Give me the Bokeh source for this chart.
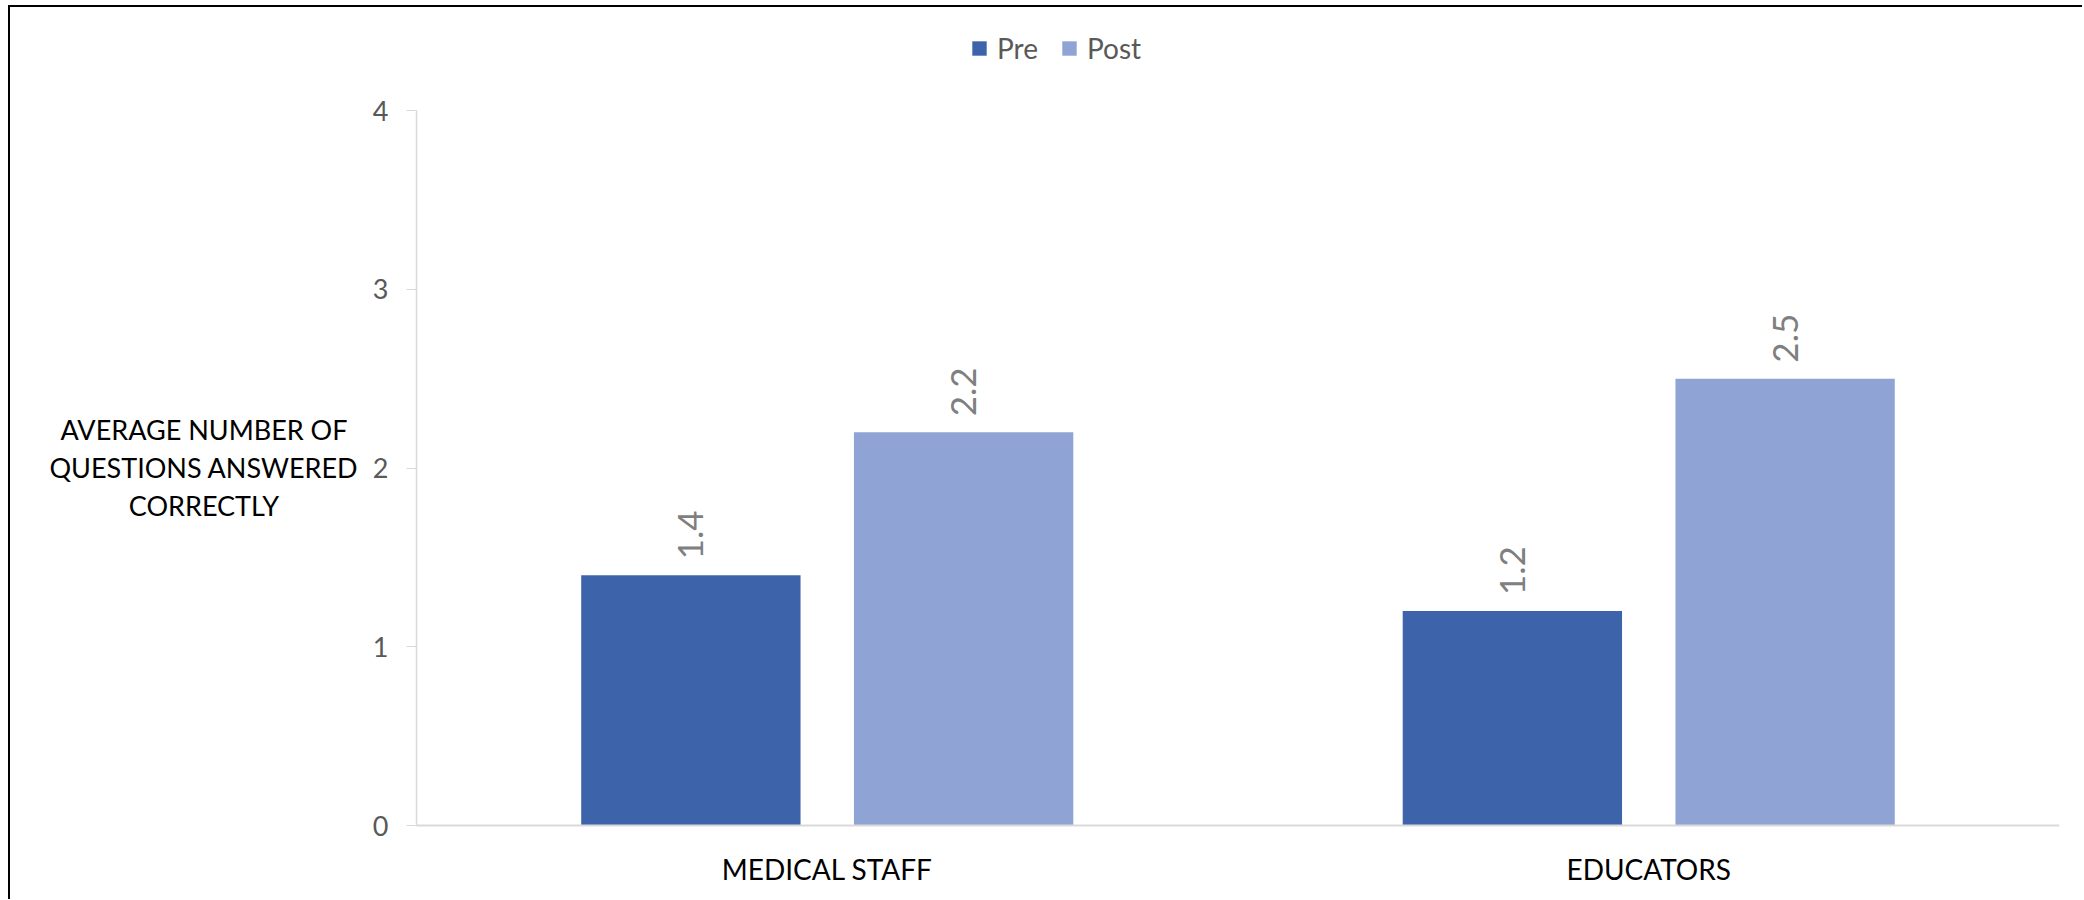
import math
from bokeh.plotting import figure
from bokeh.models import (ColumnDataSource, Range1d, FixedTicker, Legend,
                          LegendItem, Label)
from bokeh.core.properties import value
from bokeh.embed import file_html
from bokeh.resources import INLINE

# --- data -------------------------------------------------------------
groups = ["MEDICAL STAFF", "EDUCATORS"]
pre_scores = [1.4, 1.2]
post_scores = [2.2, 2.5]
series_names = ["Pre", "Post"]
y_ticks = [0, 1, 2, 3, 4]
y_title_lines = ["AVERAGE NUMBER OF", "QUESTIONS ANSWERED", "CORRECTLY"]

PRE_COLOR = "#3D64AB"
POST_COLOR = "#8FA4D4"
FONT = "Lato"

# --- layout (pixels on the canvas) -------------------------------------
W, H = 2074, 894
AXIS_X_PX = 406            # canvas x of the value axis
AXIS_Y_PX = 818            # canvas y of the category axis (value 0)
PAD_RIGHT = 25
AXIS_SPAN_PX = 715         # from value 0 up to the top tick
frame_w = W - PAD_RIGHT
px_per_group = (frame_w - AXIS_X_PX) / len(groups)
px_per_unit = AXIS_SPAN_PX / y_ticks[-1]
x_start = -AXIS_X_PX / px_per_group
y_start = -(H - AXIS_Y_PX) / px_per_unit
y_end = AXIS_Y_PX / px_per_unit

group_x = [i + 0.5 for i in range(len(groups))]
bar_w = 0.267
off = 0.166

source = ColumnDataSource(data=dict(
    x_pre=[g - off for g in group_x],
    x_post=[g + off for g in group_x],
    pre=pre_scores,
    post=post_scores,
    pre_txt=[f"{v:.1f}" for v in pre_scores],
    post_txt=[f"{v:.1f}" for v in post_scores],
))

p = figure(
    x_range=Range1d(x_start, len(groups)),
    y_range=Range1d(y_start, y_end),
    width=W, height=H,
    output_backend="svg", toolbar_location=None,
    min_border_left=0, min_border_right=PAD_RIGHT,
    min_border_top=0, min_border_bottom=0,
    background_fill_color="white", border_fill_color="white",
)
p.styles = {
    "margin-left": "8px", "margin-top": "5px",
    "border-left": "2px solid #000000", "border-top": "2px solid #000000",
}
p.outline_line_color = None
p.xgrid.grid_line_color = None
p.ygrid.grid_line_color = None

r_pre = p.vbar(x="x_pre", top="pre", width=bar_w, source=source,
               fill_color=PRE_COLOR, line_color=None)
r_post = p.vbar(x="x_post", top="post", width=bar_w, source=source,
                fill_color=POST_COLOR, line_color=None)

# value labels, rotated, just above each bar
for xcol, col, txt in (("x_pre", "pre", "pre_txt"), ("x_post", "post", "post_txt")):
    p.text(x=xcol, y=col, text=txt, source=source,
           angle=math.pi / 2, text_align="left", text_baseline="middle",
           y_offset=-16, text_font=value(FONT), text_font_size="35px",
           text_color="#7F7F7F")

# value axis, drawn at x = 0
yax = p.yaxis[0]
yax.fixed_location = 0
yax.ticker = FixedTicker(ticks=y_ticks)
yax.bounds = (y_ticks[0], y_ticks[-1])
yax.minor_tick_line_color = None
yax.major_tick_in = 0
yax.major_tick_out = 10
yax.major_tick_line_color = "#D9D9D9"
yax.axis_line_color = "#D9D9D9"
yax.axis_line_width = 1.5
yax.major_label_text_font = FONT
yax.major_label_text_font_size = "27px"
yax.major_label_text_color = "#595959"
yax.major_label_standoff = 18

# category axis, drawn at value 0
xax = p.xaxis[0]
xax.fixed_location = 0
xax.ticker = FixedTicker(ticks=group_x)
xax.major_label_overrides = {gx: g for gx, g in zip(group_x, groups)}
xax.bounds = (0, len(groups))
xax.major_tick_line_color = None
xax.minor_tick_line_color = None
xax.axis_line_color = "#D9D9D9"
xax.axis_line_width = 2
xax.major_label_text_font = FONT
xax.major_label_text_font_size = "28px"
xax.major_label_text_color = "#000000"
xax.major_label_standoff = 20

# three-line horizontal title beside the value axis
title_cx = (193.5 - AXIS_X_PX) / px_per_group
for i, line in enumerate(y_title_lines):
    cy_px = 422 + 37.75 * i            # canvas y of each line's middle
    p.add_layout(Label(x=title_cx, y=(AXIS_Y_PX - cy_px) / px_per_unit, text=line,
                       text_align="center", text_baseline="middle",
                       text_font=FONT, text_font_size="27px",
                       text_color="#000000"))

legend = Legend(
    items=[LegendItem(label=series_names[0], renderers=[r_pre]),
           LegendItem(label=series_names[1], renderers=[r_post])],
    orientation="horizontal", location=(960, H - 58),
    glyph_width=18, glyph_height=18, label_standoff=9, spacing=22,
    padding=0, margin=0, border_line_color=None, background_fill_alpha=0,
    label_text_font=FONT, label_text_font_size="28px",
    label_text_color="#595959", label_height=18,
)
p.add_layout(legend, "center")

open("out.html", "w").write(file_html(p, INLINE))
